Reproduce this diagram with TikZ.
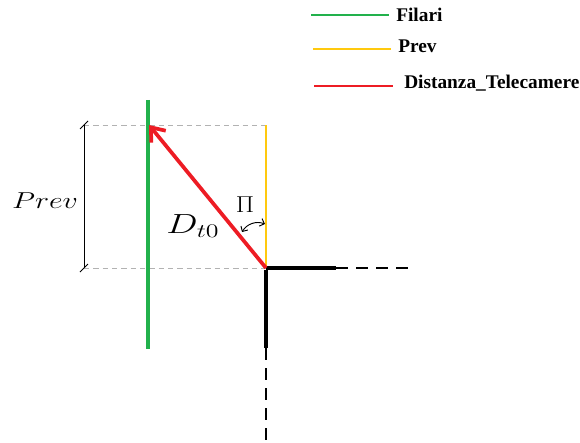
\documentclass[tikz,border=0pt]{standalone}
\usepackage{fontspec}
\usepackage{amsmath}
\newfontfamily\legfont{Liberation Serif}
\usetikzlibrary{arrows.meta,positioning}
\definecolor{FilariGreen}{HTML}{22B14C}
\definecolor{PrevYellow}{HTML}{FFC90E}
\definecolor{DistRed}{HTML}{ED1C24}
\tikzset{
  legtext/.style={anchor=west,inner sep=0pt,
    font=\fontsize{14.5}{16}\legfont\bfseries},
  mathlbl/.style={inner sep=0pt,font=\fontsize{19}{22}\selectfont},
  filari/.style={line width=3pt,draw=FilariGreen},
  prevline/.style={line width=1.6pt,draw=PrevYellow},
  distline/.style={line width=2.8pt,draw=DistRed},
  guide/.style={line width=0.5pt,draw=gray!60,dash pattern=on 4pt off 3pt},
  wall/.style={line width=3pt,draw=black},
  walldash/.style={line width=2pt,draw=black,dash pattern=on 9pt off 6pt},
}

\begin{document}
\begin{tikzpicture}[x=0.75pt,y=-0.75pt]
  \useasboundingbox (0,0) rectangle (580,442);
  % legend
  \coordinate (lgG1) at (311,15); \coordinate (lgG2) at (389,15);
  \coordinate (lgY1) at (313,49); \coordinate (lgY2) at (391,49);
  \coordinate (lgR1) at (314,86); \coordinate (lgR2) at (393,86);
  \node[legtext] (lgFilari) at (396,15) {Filari};
  \node[legtext] (lgPrev) at (398,46) {Prev};
  \node[legtext] (lgDist) at (404,83) {Distanza\_Telecamere};
  \draw[filari,line width=2.2pt] (lgG1) -- (lgG2);
  \draw[prevline] (lgY1) -- (lgY2);
  \draw[distline,line width=2.2pt] (lgR1) -- (lgR2);
  % main points
  \coordinate (cam) at (266,268);
  \coordinate (top) at (266,125);
  \coordinate (tip) at (149,125);
  \coordinate (fTop) at (148,100);
  \coordinate (fBot) at (148,349);
  \coordinate (dimT) at (84,125);
  \coordinate (dimB) at (84,268);
  % guides
  \draw[guide] (dimT) -- (top);
  \draw[guide] (dimB) -- (cam);
  % dimension
  \draw[line width=0.7pt] (dimT) -- (dimB);
  \draw[line width=0.7pt] ([shift={(-4,4)}]dimT) -- ([shift={(4,-4)}]dimT);
  \draw[line width=0.7pt] ([shift={(-4,4)}]dimB) -- ([shift={(4,-4)}]dimB);
  \node[mathlbl] (lblPrev) at (45,201) {\scalebox{1.3}[1]{$Prev$}};
  % wires and walls
  \draw[filari] (fTop) -- (fBot);
  \draw[prevline] (top) -- (cam);
  \coordinate (wallH) at (336,268); \coordinate (wallHe) at (412,268);
  \coordinate (wallV) at (266,348); \coordinate (wallVe) at (266,442);
  \draw[wall] (cam) -- (wallH);
  \draw[walldash] (wallH) -- (wallHe);
  \draw[wall] ([yshift=-1.5]cam) -- (wallV);
  \draw[walldash] (wallV) -- (wallVe);
  % distance
  \draw[distline,-{Straight Barb[length=9pt,width=14pt,line width=2.8pt]}] (cam) -- (tip);
  \node[mathlbl,font=\fontsize{21}{24}\selectfont] (lblD) at (193,226)
    {\scalebox{1.35}[1]{$D_{t0}$}};
  \node[mathlbl,font=\fontsize{16.5}{18}\selectfont] (lblPi) at (245,205)
    {\scalebox{1.15}[1]{$\Pi$}};
  \coordinate (angA) at (242,232); \coordinate (angB) at (265,224);
  \draw[line width=0.7pt,{Straight Barb[length=3pt]}-{Straight Barb[length=3pt]}]
    (angA) to[bend left=40] (angB);
\end{tikzpicture}
\end{document}
